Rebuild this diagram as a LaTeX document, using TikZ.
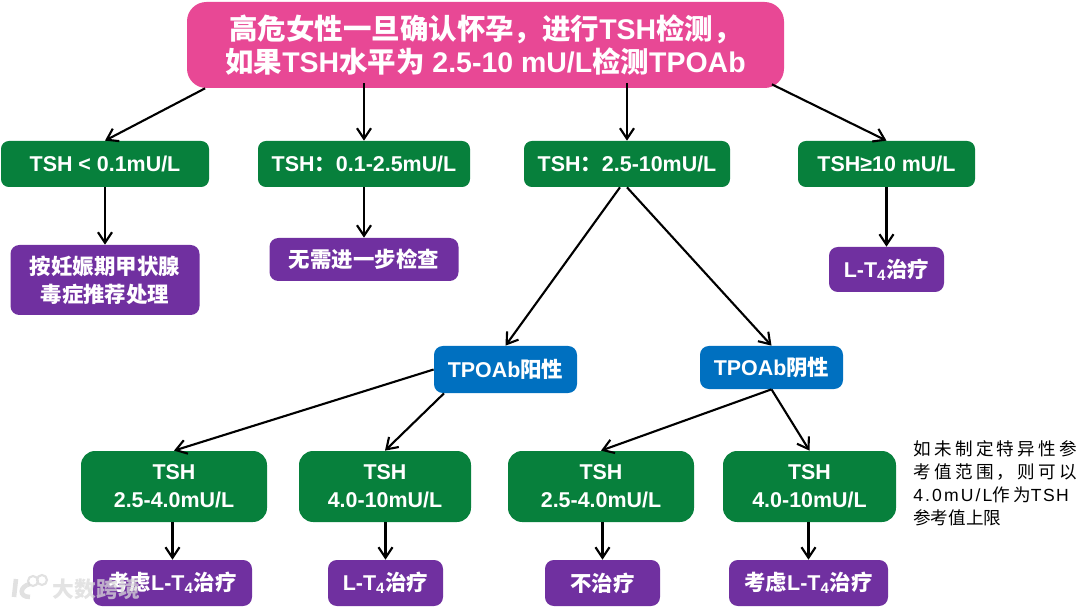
\documentclass[tikz,border=0pt]{standalone}
\usepackage{fontspec}
\setmainfont{Liberation Sans}
\newfontfamily\cjk{Noto Sans CJK SC}
\newcommand{\zh}[1]{{\cjk #1}}
\usetikzlibrary{arrows.meta}
\definecolor{toppink}{HTML}{E84895}
\definecolor{tshgreen}{HTML}{07803C}
\definecolor{doneviolet}{HTML}{7030A0}
\definecolor{abblue}{HTML}{0070C0}

\begin{document}
\begin{tikzpicture}[x=0.02cm,y=-0.02cm,
    box/.style={text=white,font=\bfseries\fontsize{12.2}{16}\selectfont,align=center,inner sep=0pt},
    topbox/.style={box,fill=toppink,rounded corners=11pt,minimum width=597*0.02cm,minimum height=86*0.02cm,font=\bfseries\fontsize{16.2}{18.6}\selectfont},
    tshbox/.style={box,fill=tshgreen,rounded corners=4.5pt,minimum height=46*0.02cm},
    rangebox/.style={box,fill=tshgreen,rounded corners=8pt,minimum height=71*0.02cm},
    endbox/.style={box,fill=doneviolet,rounded corners=5pt},
    abbox/.style={box,fill=abblue,rounded corners=5pt},
    arr/.style={-{Straight Barb[length=6pt,width=8pt]},line width=1.2pt,black}]
    \useasboundingbox (0,0) rectangle (1080,608);

    % Top box
    \node[topbox] (top) at (485.5,45) {\zh{高危女性一旦确认怀孕，进行}TSH\zh{检测，}\\\zh{如果}TSH\zh{水平为} 2.5-10 mU/L\zh{检测}TPOAb};

    % TSH level boxes
    \node[tshbox,minimum width=208*0.02cm] (tshA) at (105,164) {TSH < 0.1mU/L};
    \node[tshbox,minimum width=212*0.02cm] (tshB) at (364,164) {TSH\zh{：}0.1-2.5mU/L};
    \node[tshbox,minimum width=206*0.02cm] (tshC) at (627,164) {TSH\zh{：}2.5-10mU/L};
    \node[tshbox,minimum width=177*0.02cm] (tshD) at (886.5,164) {TSH≥10 mU/L};

    % Results of the first row
    \node[endbox,minimum width=189*0.02cm,minimum height=70*0.02cm] (endA) at (105,280) {\zh{按妊娠期甲状腺}\\\zh{毒症推荐处理}};
    \node[endbox,minimum width=189*0.02cm,minimum height=43*0.02cm] (endB) at (364,259.5) {\zh{无需进一步检查}};
    \node[endbox,minimum width=115*0.02cm,minimum height=45*0.02cm] (endD) at (886.5,269.5) {L-T\textsubscript{4}\zh{治疗}};

    % TPOAb boxes
    \node[abbox,minimum width=143*0.02cm,minimum height=47*0.02cm] (abPos) at (505.5,369.5) {TPOAb\zh{阳性}};
    \node[abbox,minimum width=143*0.02cm,minimum height=43*0.02cm] (abNeg) at (771.5,367.5) {TPOAb\zh{阴性}};

    % TSH ranges
    \node[rangebox,minimum width=186*0.02cm] (rangeA) at (174,486.5) {TSH\\2.5-4.0mU/L};
    \node[rangebox,minimum width=172*0.02cm] (rangeB) at (385,486.5) {TSH\\4.0-10mU/L};
    \node[rangebox,minimum width=186*0.02cm] (rangeC) at (601,486.5) {TSH\\2.5-4.0mU/L};
    \node[rangebox,minimum width=173*0.02cm] (rangeD) at (809.5,486.5) {TSH\\4.0-10mU/L};

    % Bottom results
    \node[endbox,minimum width=159*0.02cm,minimum height=46*0.02cm] (lastA) at (172.5,583) {\zh{考虑}L-T\textsubscript{4}\zh{治疗}};
    \node[endbox,minimum width=115*0.02cm,minimum height=46*0.02cm] (lastB) at (385.5,583) {L-T\textsubscript{4}\zh{治疗}};
    \node[endbox,minimum width=115*0.02cm,minimum height=46*0.02cm] (lastC) at (602.5,583) {\zh{不治疗}};
    \node[endbox,minimum width=159*0.02cm,minimum height=46*0.02cm] (lastD) at (808.5,583) {\zh{考虑}L-T\textsubscript{4}\zh{治疗}};

    % Side note
    \node[anchor=north west,inner sep=0pt,align=left,font=\fontsize{10}{13.1}\selectfont] (note) at (913,440)
        {\cjk\addfontfeature{LetterSpace=19}如未制定特异性参\\\cjk\addfontfeature{LetterSpace=19}考值范围，则可以\\\addfontfeature{LetterSpace=12}4.0mU/L\cjk\addfontfeature{LetterSpace=19}作为\normalfont\addfontfeature{LetterSpace=8}TSH\\\cjk 参考值上限};

    % Arrows from the top box
    \draw[arr] ([xshift=-5.61cm]top.south) -- (tshA.north);
    \draw[arr,shorten <=-0.1cm] (top.south -| tshB.north) -- (tshB.north);
    \draw[arr,shorten <=-0.1cm] (top.south -| tshC.north) -- (tshC.north);
    \draw[arr] ([xshift=5.73cm,yshift=0.08cm]top.south) -- (tshD.north);

    % Arrows of the first row
    \draw[arr] (tshA.south) -- (endA.north);
    \draw[arr] (tshB.south) -- (endB.north);
    \draw[arr] (tshD.south) -- (endD.north);
    \draw[arr] ([xshift=-4pt]tshC.south) -- (abPos.north);
    \draw[arr] (tshC.south) -- (abNeg.north);

    % Arrows to the ranges
    \draw[arr] (abPos.west) -- (rangeA.north);
    \draw[arr] ([xshift=-35pt]abPos.south) -- (rangeB.north);
    \draw[arr] (abNeg.south) -- (rangeC.north);
    \draw[arr] (abNeg.south) -- (rangeD.north);

    % Arrows to the bottom results
    \draw[arr] (rangeA.south -| lastA.north) -- (lastA.north);
    \draw[arr] (rangeB.south -| lastB.north) -- (lastB.north);
    \draw[arr] (rangeC.south -| lastC.north) -- (lastC.north);
    \draw[arr] (rangeD.south -| lastD.north) -- (lastD.north);

    % Watermark
    \draw[white!85!black,line width=2.6pt,opacity=.8] (16,579) -- (14,597) (30,584) .. controls (20,586) and (18,597) .. (30,597);
    \draw[white!85!black,line width=1.2pt,opacity=.8] (33,581) circle (5) (42,580) circle (5);
    \node[text=white!85!black,opacity=.75,font=\cjk\bfseries\fontsize{12.4}{12}\selectfont,inner sep=0pt] (mark) at (96.5,589) {大数跨境};
\end{tikzpicture}
\end{document}
